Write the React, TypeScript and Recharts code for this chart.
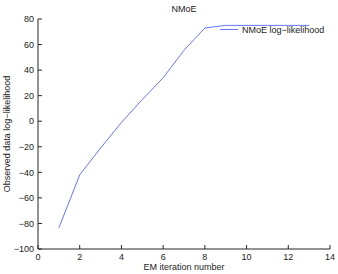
import { LineChart, Line, XAxis, YAxis } from "recharts";

const iterations = [1, 2, 3, 4, 5, 6, 7, 8, 9, 10, 11, 12, 13];
const logLik = [-83.5, -42, -21, -1, 17, 34, 55.5, 73, 75, 75, 75, 75, 75];
const xTicks = [0, 2, 4, 6, 8, 10, 12, 14];
const yTicks = [-100, -80, -60, -40, -20, 0, 20, 40, 60, 80];

const data = iterations.map((it, i) => ({ it, ll: logLik[i] }));

const FONT = "'Liberation Sans', Arial, sans-serif";
const AXIS = "#262626";
const LINE = "#6676ff";

const fmt = (v: number) => (v < 0 ? "\u2212" + Math.abs(v) : String(v));

function BottomTick(props: any) {
  const { x, y, payload } = props;
  return (
    <g>
      <line x1={x} y1={y} x2={x} y2={y - 4} stroke={AXIS} />
      <text x={x} y={y + 8} dy="0.355em" textAnchor="middle" fontSize={9} fontFamily={FONT} fill="#222">
        {fmt(payload.value)}
      </text>
    </g>
  );
}

function TopTick(props: any) {
  const { x, y } = props;
  return <line x1={x} y1={y} x2={x} y2={y + 4} stroke={AXIS} />;
}

function LeftTick(props: any) {
  const { x, y, payload } = props;
  return (
    <g>
      <line x1={x} y1={y} x2={x + 4} y2={y} stroke={AXIS} />
      <text x={x - 4} y={y} dy="0.355em" textAnchor="end" fontSize={9} fontFamily={FONT} fill="#222">
        {fmt(payload.value)}
      </text>
    </g>
  );
}

function RightTick(props: any) {
  const { x, y } = props;
  return <line x1={x} y1={y} x2={x - 4} y2={y} stroke={AXIS} />;
}

export default function App() {
  return (
    <div style={{ position: "fixed", left: 0, top: 0, width: 338, height: 274, background: "#fff" }}>
      <LineChart width={338} height={274} data={data} margin={{ top: 19, right: 8, bottom: 0, left: 0 }}>
        <XAxis
          xAxisId="b"
          dataKey="it"
          type="number"
          domain={[0, 14]}
          ticks={xTicks}
          height={25}
          tickSize={0}
          tickMargin={0}
          tick={<BottomTick />}
          axisLine={{ stroke: AXIS }}
          interval={0}
        />
        <XAxis
          xAxisId="t"
          dataKey="it"
          type="number"
          orientation="top"
          domain={[0, 14]}
          ticks={xTicks}
          height={0}
          tickSize={0}
          tickMargin={0}
          tick={<TopTick />}
          axisLine={{ stroke: AXIS }}
          interval={0}
        />
        <YAxis
          yAxisId="l"
          type="number"
          domain={[-100, 80]}
          ticks={yTicks}
          width={38}
          tickSize={0}
          tickMargin={0}
          tick={<LeftTick />}
          axisLine={{ stroke: AXIS }}
          interval={0}
        />
        <YAxis
          yAxisId="r"
          type="number"
          orientation="right"
          domain={[-100, 80]}
          ticks={yTicks}
          width={0}
          tickSize={0}
          tickMargin={0}
          tick={<RightTick />}
          axisLine={{ stroke: AXIS }}
          interval={0}
        />
        <Line
          xAxisId="b"
          yAxisId="l"
          dataKey="ll"
          stroke={LINE}
          strokeWidth={1}
          dot={false}
          isAnimationActive={false}
        />
      </LineChart>
      <svg width={338} height={274} style={{ position: "absolute", left: 0, top: 0, pointerEvents: "none" }}>
        <text x={184} y={9} dy="0.355em" textAnchor="middle" fontSize={9} fontFamily={FONT} fill="#222">
          NMoE
        </text>
        <line x1={220} y1={29.5} x2={238} y2={29.5} stroke={LINE} strokeWidth={1} />
        <text x={242} y={29.5} dy="0.355em" fontSize={9} fontFamily={FONT} fill="#222">
          NMoE log{"\u2212"}likelihood
        </text>
        <text x={184} y={267} dy="0.355em" textAnchor="middle" fontSize={9} fontFamily={FONT} fill="#222">
          EM iteration number
        </text>
        <text
          x={7}
          y={134}
          dy="0.355em"
          textAnchor="middle"
          fontSize={9}
          fontFamily={FONT}
          fill="#222"
          transform="rotate(-90 7 134)"
        >
          Observed data log{"\u2212"}likelihood
        </text>
      </svg>
    </div>
  );
}
